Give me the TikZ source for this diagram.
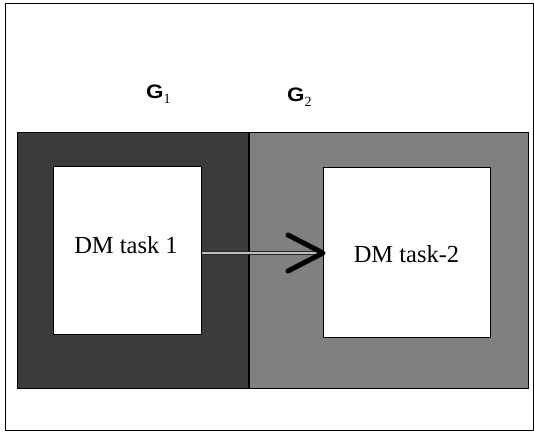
\documentclass[tikz,border=0pt]{standalone}
\usepackage{fontspec}
\setmainfont{Liberation Serif}
\newfontfamily\glabelfont{Liberation Sans}
\begin{document}
\begin{tikzpicture}[x=1pt,y=-1pt,
  region/.style={draw=black,line width=1.4pt,inner sep=0pt,anchor=north west},
  taskbox/.style={draw=black,line width=1pt,fill=white,inner sep=0pt,anchor=north west},
  tasktext/.style={font=\fontsize{24.5}{28}\selectfont,inner sep=0pt,anchor=base},
  glabel/.style={inner sep=0pt,anchor=base west},
  flow/.style={double=black!25,double distance=2.2pt,line width=0.9pt,draw=black!85},
  chevron/.style={line width=5pt,line cap=round,line join=round,draw=black}
]
\newcommand{\grp}[1]{{\glabelfont\bfseries\fontsize{19.5}{22}\selectfont\scalebox{1.15}[1]{G}}\raisebox{-5pt}{\fontsize{14}{16}\selectfont #1}}
% page and outer frame
\useasboundingbox (0,0) rectangle (534,432);
\fill[white] (0,0) rectangle (534,432);
\draw[line width=0.8pt] (5,3) rectangle (533,430);
% the two shaded groups
\node[region,fill=black!77,minimum width=231pt,minimum height=256pt] (g1) at (17,132) {};
\node[region,fill=black!50,minimum width=280pt,minimum height=256pt] (g2) at (248,132) {};
\draw[line width=2pt] (g1.north east) -- (g1.south east);
% group labels
\node[glabel] (l1) at (146,98) {\grp{1}};
\node[glabel] (l2) at (287,101) {\grp{2}};
% task boxes
\node[taskbox,minimum width=148pt,minimum height=168pt] (t1) at (53,166) {};
\node[taskbox,minimum width=167pt,minimum height=170pt] (t2) at (323,167) {};
\node[tasktext] (x1) at (126,253) {DM task 1};
\node[tasktext] (x2) at (406.5,262) {DM task-2};
% flow from task 1 to task 2
\coordinate (a) at (t1.east |- 0,253);
\coordinate (b) at (t2.west |- 0,253);
\draw[flow] (a) -- ([xshift=-3pt]b);
\draw[chevron] ([shift={(-35,-18)}]b) -- (b) -- ([shift={(-35,18)}]b);
\end{tikzpicture}
\end{document}
